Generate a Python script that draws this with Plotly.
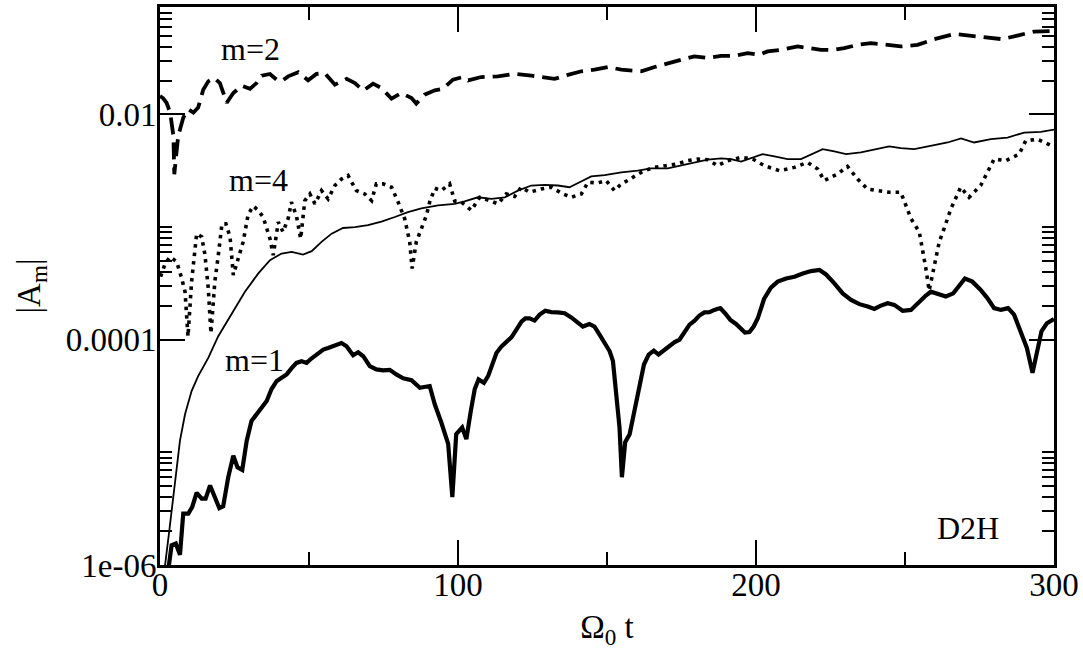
import math
import plotly.graph_objects as go

# ---------------- data ----------------
m1_t = [2.2, 3.9, 5.3, 6.7, 7.8, 9.5, 10.8, 12.3, 14.0, 15.3,
        16.8, 18.4, 19.9, 21.2, 22.9, 24.6, 26.0, 27.6, 29.1, 30.7,
        32.4, 34.1, 35.8, 37.4, 39.1, 40.8, 42.5, 44.1, 45.8, 47.5,
        49.2, 50.8, 53.1, 54.8, 56.4, 58.7, 60.9, 62.6, 64.8, 66.5,
        68.2, 70.4, 72.6, 74.9, 77.1, 79.3, 81.6, 84.4, 87.2, 90.5,
        92.2, 94.4, 96.7, 98.1, 99.4, 101.4, 102.8, 104.3, 105.6, 106.9,
        108.7, 110.1, 111.4, 112.9, 114.6, 116.2, 117.9, 119.6, 121.3, 122.6,
        124.0, 125.7, 127.4, 129.3, 131.3, 133.5, 135.8, 138.0, 140.2, 141.9,
        144.1, 145.8, 147.5, 149.2, 150.9, 152.0, 153.1, 154.2, 155.0, 156.1,
        157.6, 159.0, 160.6, 162.4, 164.0, 165.7, 167.3, 169.1, 171.0, 172.7,
        174.3, 176.0, 177.7, 179.3, 181.0, 182.7, 184.4, 186.0, 188.0, 189.6,
        191.4, 193.3, 195.0, 196.3, 197.8, 199.2, 200.6, 202.7, 205.0, 207.3,
        210.1, 212.9, 215.7, 218.5, 221.3, 223.5, 226.3, 229.1, 231.9, 234.7,
        237.5, 239.7, 241.9, 244.2, 246.4, 249.2, 252.0, 254.8, 257.0, 258.7,
        260.9, 263.7, 266.2, 268.2, 270.1, 272.6, 275.4, 277.7, 279.9, 282.2,
        284.6, 286.6, 288.9, 290.9, 292.8, 294.2, 295.8, 297.6, 299.1, 300.0]
m1_a = [7e-7, 1.50e-6, 1.55e-6, 1.23e-6, 2.86e-6, 2.86e-6, 3.27e-6, 4.38e-6, 3.88e-6, 3.88e-6,
        5.08e-6, 4.01e-6, 3.20e-6, 3.32e-6, 6.02e-6, 9.35e-6, 7.37e-6, 6.99e-6, 1.27e-5, 1.90e-5,
        2.18e-5, 2.42e-5, 2.86e-5, 3.63e-5, 4.29e-5, 4.59e-5, 4.92e-5, 5.56e-5, 6.23e-5, 6.45e-5,
        6.23e-5, 6.81e-5, 7.63e-5, 8.18e-5, 8.45e-5, 8.87e-5, 9.35e-5, 8.74e-5, 7.28e-5, 7.74e-5,
        7.14e-5, 5.82e-5, 5.45e-5, 5.34e-5, 5.40e-5, 4.92e-5, 4.54e-5, 4.38e-5, 3.75e-5, 3.88e-5,
        2.67e-5, 1.84e-5, 1.19e-5, 4.01e-6, 1.45e-5, 1.66e-5, 1.31e-5, 2.33e-5, 3.63e-5, 4.44e-5,
        4.15e-5, 4.75e-5, 6.03e-5, 7.63e-5, 8.74e-5, 9.68e-5, 1.05e-4, 1.23e-4, 1.45e-4, 1.55e-4,
        1.55e-4, 1.48e-4, 1.67e-4, 1.81e-4, 1.76e-4, 1.75e-4, 1.72e-4, 1.58e-4, 1.42e-4, 1.31e-4,
        1.38e-4, 1.31e-4, 1.11e-4, 9.35e-5, 7.90e-5, 6.45e-5, 3.50e-5, 1.66e-5, 6.02e-6, 1.23e-5,
        1.45e-5, 2.18e-5, 3.75e-5, 6.03e-5, 7.39e-5, 8.01e-5, 7.39e-5, 8.05e-5, 8.87e-5, 9.54e-5,
        1.00e-4, 1.15e-4, 1.36e-4, 1.47e-4, 1.64e-4, 1.75e-4, 1.76e-4, 1.84e-4, 1.91e-4, 1.72e-4,
        1.50e-4, 1.38e-4, 1.24e-4, 1.16e-4, 1.17e-4, 1.31e-4, 1.55e-4, 2.30e-4, 2.90e-4, 3.28e-4,
        3.50e-4, 3.63e-4, 3.88e-4, 4.07e-4, 4.16e-4, 3.80e-4, 3.17e-4, 2.58e-4, 2.26e-4, 2.07e-4,
        1.97e-4, 1.88e-4, 2.01e-4, 2.11e-4, 2.04e-4, 1.81e-4, 1.84e-4, 2.18e-4, 2.47e-4, 2.67e-4,
        2.55e-4, 2.42e-4, 2.58e-4, 3.06e-4, 3.50e-4, 3.28e-4, 2.77e-4, 2.33e-4, 1.91e-4, 1.84e-4,
        1.91e-4, 1.67e-4, 1.19e-4, 8.45e-5, 5.08e-5, 7.90e-5, 1.19e-4, 1.40e-4, 1.50e-4, 1.53e-4]

m3_t = [1.0, 1.7, 3.0, 4.5, 5.6, 6.7, 8.4, 10.6, 12.8, 16.2,
        19.5, 24.0, 28.5, 33.0, 36.9, 40.8, 44.2, 48.0, 50.9, 54.2,
        57.6, 61.4, 65.4, 69.8, 74.3, 78.8, 83.2, 87.7, 93.3, 98.9,
        102.2, 106.7, 111.2, 115.7, 120.1, 124.6, 129.1, 133.5, 137.4, 140.8,
        144.7, 149.2, 154.8, 160.3, 164.8, 170.4, 174.9, 179.3, 183.8, 188.3,
        191.6, 195.0, 198.4, 202.2, 206.2, 210.6, 215.1, 218.5, 222.4, 226.3,
        230.2, 235.2, 240.8, 244.7, 248.6, 253.1, 259.8, 264.3, 268.8, 273.2,
        278.8, 284.4, 290.0, 295.6, 300.0]
m3_a = [4e-7, 1.0e-6, 1.90e-6, 4.01e-6, 7.63e-6, 1.27e-5, 2.18e-5, 3.50e-5, 4.75e-5, 6.90e-5,
        1.07e-4, 1.67e-4, 2.67e-4, 3.88e-4, 5.09e-4, 5.82e-4, 6.03e-4, 5.71e-4, 6.12e-4, 7.39e-4,
        8.75e-4, 9.82e-4, 1.00e-3, 1.04e-3, 1.12e-3, 1.23e-3, 1.36e-3, 1.47e-3, 1.56e-3, 1.61e-3,
        1.69e-3, 1.84e-3, 1.78e-3, 1.84e-3, 2.11e-3, 2.34e-3, 2.37e-3, 2.34e-3, 2.26e-3, 2.50e-3,
        2.82e-3, 2.90e-3, 3.06e-3, 3.17e-3, 3.32e-3, 3.32e-3, 3.51e-3, 3.75e-3, 3.97e-3, 4.07e-3,
        4.01e-3, 3.81e-3, 4.07e-3, 4.44e-3, 4.24e-3, 4.01e-3, 4.01e-3, 4.44e-3, 4.92e-3, 4.70e-3,
        4.44e-3, 4.60e-3, 4.92e-3, 5.20e-3, 5.02e-3, 4.92e-3, 5.34e-3, 5.64e-3, 6.12e-3, 5.64e-3,
        6.03e-3, 6.24e-3, 6.91e-3, 7.01e-3, 7.35e-3]

m2_t = [0.0, 1.0, 2.2, 3.4, 4.5, 4.8, 6.1, 7.8, 9.5, 11.2,
        12.8, 14.5, 16.2, 18.2, 20.1, 22.4, 24.6, 27.4, 30.2, 32.4,
        34.1, 36.9, 39.1, 40.8, 43.0, 46.4, 49.7, 52.5, 55.3, 58.7,
        62.6, 65.4, 68.2, 71.5, 74.3, 77.7, 81.0, 84.4, 86.0, 88.8,
        92.2, 95.0, 98.3, 101.7, 103.4, 107.8, 113.4, 119.0, 124.6, 129.1,
        132.4, 136.9, 141.4, 145.8, 150.3, 154.8, 161.5, 166.0, 170.4, 174.9,
        179.3, 183.8, 188.3, 192.8, 197.2, 201.1, 203.9, 208.4, 214.0, 217.3,
        221.8, 226.3, 229.6, 234.1, 238.6, 244.2, 248.6, 254.2, 259.8, 266.5,
        272.1, 277.7, 282.7, 287.7, 293.3, 299.1, 300.0]
m2_a = [1.46e-2, 1.40e-2, 1.27e-2, 1.04e-2, 6.45e-3, 2.95e-3, 6.45e-3, 9.35e-3, 1.11e-2, 1.04e-2,
        1.15e-2, 1.66e-2, 1.97e-2, 2.11e-2, 1.90e-2, 1.27e-2, 1.55e-2, 1.80e-2, 1.69e-2, 1.90e-2,
        2.21e-2, 2.29e-2, 2.04e-2, 1.97e-2, 2.18e-2, 2.37e-2, 2.01e-2, 2.29e-2, 2.33e-2, 1.84e-2,
        2.07e-2, 1.90e-2, 1.63e-2, 1.88e-2, 1.72e-2, 1.38e-2, 1.55e-2, 1.40e-2, 1.25e-2, 1.50e-2,
        1.64e-2, 1.69e-2, 2.04e-2, 2.15e-2, 2.01e-2, 2.15e-2, 2.18e-2, 2.30e-2, 2.21e-2, 2.11e-2,
        2.07e-2, 2.25e-2, 2.42e-2, 2.50e-2, 2.64e-2, 2.50e-2, 2.42e-2, 2.64e-2, 2.86e-2, 3.06e-2,
        3.28e-2, 3.17e-2, 3.32e-2, 3.32e-2, 3.50e-2, 3.39e-2, 3.63e-2, 3.75e-2, 4.02e-2, 3.88e-2,
        3.75e-2, 3.75e-2, 3.88e-2, 4.15e-2, 4.30e-2, 4.15e-2, 4.02e-2, 4.15e-2, 4.66e-2, 5.19e-2,
        4.98e-2, 4.75e-2, 4.66e-2, 5.02e-2, 5.45e-2, 5.51e-2, 5.52e-2]

m4_t = [0.2, 1.7, 3.4, 5.6, 7.3, 8.4, 9.4, 10.6, 12.3, 14.0,
        15.1, 16.2, 17.1, 18.4, 19.5, 20.8, 22.1, 23.5, 24.6, 26.2,
        27.9, 29.6, 31.3, 32.8, 34.6, 36.9, 38.0, 39.7, 41.3, 43.0,
        44.1, 45.8, 47.2, 48.6, 50.3, 52.0, 54.2, 56.4, 58.7, 60.9,
        63.1, 65.9, 68.7, 71.0, 72.6, 74.9, 77.7, 79.9, 82.1, 83.8,
        84.6, 86.0, 87.7, 89.4, 90.5, 92.2, 94.4, 97.2, 98.9, 101.1,
        104.5, 107.3, 110.6, 113.4, 116.2, 119.0, 121.2, 124.0, 127.9, 131.3,
        135.2, 138.0, 141.4, 143.6, 146.9, 149.7, 152.5, 154.8, 157.5, 159.8,
        162.6, 165.9, 169.8, 173.2, 177.1, 180.4, 183.8, 187.1, 190.5, 195.0,
        198.9, 202.8, 207.8, 212.9, 217.3, 220.7, 222.9, 227.4, 230.7, 234.1,
        237.4, 241.3, 244.7, 248.6, 250.3, 252.0, 254.8, 255.9, 257.0, 258.1,
        259.1, 260.4, 261.5, 263.1, 265.4, 268.7, 271.5, 275.4, 277.6, 279.9,
        283.8, 288.3, 290.5, 294.4, 298.8, 300.0]
m4_a = [3.63e-4, 4.73e-4, 5.45e-4, 4.92e-4, 3.50e-4, 2.67e-4, 1.07e-4, 3.28e-4, 8.75e-4, 8.18e-4,
        5.64e-4, 2.86e-4, 1.14e-4, 3.28e-4, 5.45e-4, 1.07e-3, 1.07e-3, 8.18e-4, 3.75e-4, 5.26e-4,
        7.39e-4, 1.30e-3, 1.54e-3, 1.42e-3, 1.23e-3, 7.90e-4, 5.64e-4, 1.11e-3, 9.05e-4, 1.19e-3,
        1.67e-3, 1.25e-3, 7.90e-4, 1.72e-3, 1.97e-3, 1.61e-3, 2.11e-3, 1.78e-3, 2.34e-3, 2.67e-3,
        2.87e-3, 2.11e-3, 1.97e-3, 1.72e-3, 2.42e-3, 2.42e-3, 2.26e-3, 1.67e-3, 1.19e-3, 7.39e-4,
        4.29e-4, 7.39e-4, 9.68e-4, 1.27e-3, 1.67e-3, 2.21e-3, 2.11e-3, 2.42e-3, 1.70e-3, 1.67e-3,
        1.41e-3, 1.84e-3, 1.72e-3, 1.61e-3, 1.97e-3, 1.87e-3, 2.26e-3, 2.04e-3, 2.18e-3, 2.26e-3,
        1.97e-3, 1.84e-3, 1.97e-3, 2.50e-3, 2.47e-3, 2.59e-3, 2.11e-3, 2.42e-3, 2.64e-3, 2.90e-3,
        3.17e-3, 3.39e-3, 3.51e-3, 3.63e-3, 3.89e-3, 4.02e-3, 3.97e-3, 3.51e-3, 3.89e-3, 4.16e-3,
        4.02e-3, 3.51e-3, 3.17e-3, 3.39e-3, 3.75e-3, 3.28e-3, 2.59e-3, 2.96e-3, 3.46e-3, 2.67e-3,
        2.18e-3, 2.11e-3, 2.04e-3, 2.04e-3, 1.56e-3, 1.19e-3, 9.05e-4, 6.45e-4, 4.29e-4, 2.73e-4,
        3.63e-4, 5.34e-4, 7.39e-4, 9.68e-4, 1.45e-3, 2.26e-3, 1.84e-3, 2.34e-3, 3.06e-3, 4.02e-3,
        3.89e-3, 4.44e-3, 5.84e-3, 6.03e-3, 5.34e-3, 5.40e-3]

x_major = [0, 100, 200, 300]
x_minor = [50, 150, 250]
y_major = [1e-6, 1e-4, 1e-2]
y_major_text = ["1e-06", "0.0001", "0.01"]
y_minor = [2e-6, 3e-6, 4e-6, 5e-6, 6e-6, 7e-6, 8e-6, 9e-6, 1e-5,
           2e-4, 3e-4, 4e-4, 5e-4, 6e-4, 7e-4, 8e-4, 9e-4, 1e-3,
           2e-2, 3e-2, 4e-2, 5e-2, 6e-2, 7e-2, 8e-2, 9e-2]

labels = ["m=2", "m=4", "m=1", "D2H"]
label_t = [30.2, 32.9, 31.8, 271.2]
label_a = [3.85e-2, 2.60e-3, 6.60e-5, 2.15e-6]

# ---------------- figure ----------------
FONT = "Liberation Serif, Times New Roman, serif"
fig = go.Figure()

fig.add_trace(go.Scatter(x=m3_t, y=m3_a, mode="lines",
                         line=dict(color="black", width=1.8), name="m=3"))
fig.add_trace(go.Scatter(x=m4_t, y=m4_a, mode="lines",
                         line=dict(color="black", width=3.6, dash="3.5px,5px"), name="m=4"))
fig.add_trace(go.Scatter(x=m2_t, y=m2_a, mode="lines",
                         line=dict(color="black", width=3.8, dash="17px,8px"), name="m=2"))
fig.add_trace(go.Scatter(x=m1_t, y=m1_a, mode="lines",
                         line=dict(color="black", width=4.2), name="m=1"))

for txt, t, a in zip(labels, label_t, label_a):
    fig.add_annotation(x=t, y=math.log10(a), xref="x", yref="y", text=txt,
                       showarrow=False, xanchor="center", yanchor="middle",
                       font=dict(family=FONT, size=32, color="black"))

axis_common = dict(showline=True, linewidth=3, linecolor="black", mirror="allticks",
                   ticks="inside", ticklen=25, tickwidth=2, tickcolor="black",
                   showgrid=False, zeroline=False,
                   tickfont=dict(family=FONT, size=33, color="black"))

fig.update_layout(
    width=1083, height=658,
    margin=dict(l=160, r=28, t=4, b=93),
    paper_bgcolor="white", plot_bgcolor="white",
    font=dict(family=FONT, size=33, color="black"),
    showlegend=False,
    xaxis=dict(range=[0, 300], tickmode="array", tickvals=x_major,
               ticklabelstandoff=-12,
               minor=dict(tickmode="array", tickvals=x_minor, ticks="inside",
                          ticklen=13, tickwidth=2, tickcolor="black", showgrid=False),
               title=dict(text="Ω<sub>0</sub> t", font=dict(family=FONT, size=33, color="black"),
                          standoff=14),
               **axis_common),
    yaxis=dict(type="log", range=[-6, math.log10(0.09)], tickmode="array",
               tickvals=y_major, ticktext=y_major_text,
               ticklabelstandoff=-6, automargin=True,
               minor=dict(tickmode="array", tickvals=y_minor, ticks="inside",
                          ticklen=12, tickwidth=2, tickcolor="black", showgrid=False),
               title=dict(text="|A<sub>m</sub>|", font=dict(family=FONT, size=33, color="black"),
                          standoff=16),
               **axis_common),
)

fig.write_html("out.html", config={"displayModeBar": False},
               post_script="document.body.style.margin='0px';document.body.style.overflow='hidden';")
